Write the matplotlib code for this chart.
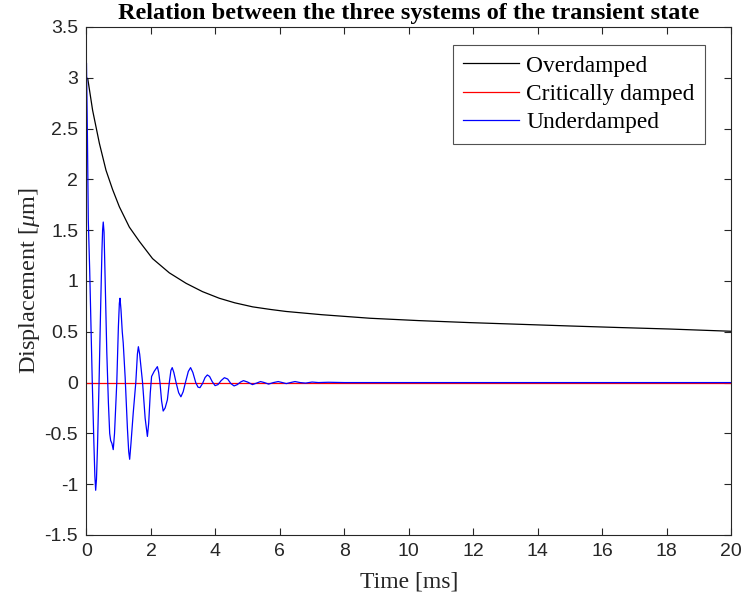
import numpy as np
import matplotlib
matplotlib.use('Agg')
import matplotlib.pyplot as plt

# overdamped response
t_over = [0, 0.04, 0.19, 0.40, 0.605, 0.81, 1.02, 1.33, 1.64, 2.05, 2.57, 3.09, 3.6, 4.12,
          4.6, 5.16, 5.7, 6.19, 7.3, 8.8, 10.3, 11.9, 13.5, 15.0, 16.5, 18.1, 20]
y_over = [3.0, 2.99, 2.68, 2.355, 2.09, 1.90, 1.73, 1.53, 1.39, 1.22, 1.08, 0.977, 0.895, 0.83,
          0.785, 0.745, 0.72, 0.70, 0.668, 0.633, 0.61, 0.59, 0.573, 0.557, 0.542, 0.527, 0.505]

# critically damped response
t_crit = [0, 20]
y_crit = [0, 0]

# underdamped response
t_under = [0, 0.03, 0.056, 0.1, 0.14, 0.18, 0.23, 0.26, 0.285, 0.31, 0.34, 0.39, 0.44, 0.48, 0.50,
           0.52, 0.545, 0.58, 0.63, 0.68, 0.72, 0.75, 0.79, 0.83, 0.87, 0.94, 0.99, 1.02, 1.04,
           1.07, 1.11, 1.14, 1.20, 1.27, 1.31, 1.34, 1.38, 1.45, 1.53, 1.58, 1.61, 1.65, 1.74,
           1.82, 1.89, 1.93, 1.98, 2.02, 2.10, 2.20, 2.24, 2.28, 2.33, 2.38, 2.44, 2.51, 2.57,
           2.62, 2.66, 2.71, 2.78, 2.86, 2.93, 3.0, 3.07, 3.16, 3.23, 3.30, 3.39, 3.46, 3.52,
           3.60, 3.68, 3.75, 3.82, 3.90, 3.99, 4.08, 4.18, 4.28, 4.38, 4.48, 4.58, 4.68, 4.78,
           4.87, 5.0, 5.15, 5.28, 5.40, 5.52, 5.65, 5.80, 5.95, 6.08, 6.2, 6.33, 6.47, 6.63,
           6.8, 7.0, 7.2, 7.5, 8.0, 20]
y_under = [3.14, 2.4, 1.60, 1.1, 0.55, 0.0, -0.6, -0.92, -1.06, -0.95, -0.65, 0.0, 0.75, 1.3, 1.5,
           1.58, 1.48, 1.0, 0.3, -0.2, -0.5, -0.57, -0.6, -0.66, -0.5, 0.0, 0.55, 0.78, 0.83,
           0.72, 0.5, 0.39, 0.05, -0.45, -0.68, -0.755, -0.6, -0.30, 0.0, 0.28, 0.353, 0.28, 0.0,
           -0.35, -0.53, -0.4, -0.1, 0.06, 0.11, 0.157, 0.1, 0.0, -0.18, -0.28, -0.25, -0.17, 0.0,
           0.12, 0.147, 0.1, 0.0, -0.1, -0.14, -0.09, 0.0, 0.11, 0.147, 0.1, 0.0, -0.045, -0.05,
           -0.01, 0.05, 0.075, 0.06, 0.01, -0.03, -0.02, 0.02, 0.048, 0.035, -0.01, -0.033, -0.02, 0.005,
           0.019, 0.005, -0.02, -0.005, 0.01, 0.0, -0.015, 0.0, 0.01, 0.0, -0.01, 0.0, 0.01, 0.0,
           -0.005, 0.005, 0.0, 0.003, 0.0, 0.0]

xticks = np.arange(0, 21, 2)
yticks = np.arange(-1.5, 3.51, 0.5)

plt.rcParams['mathtext.fontset'] = 'custom'
plt.rcParams['mathtext.it'] = 'Liberation Serif:italic'
plt.rcParams['mathtext.rm'] = 'Liberation Serif'

fig = plt.figure(figsize=(7.43, 6.03), dpi=100)
ax = fig.add_axes([0.1164, 0.1128, 0.8675, 0.8425])

ax.plot(t_over, y_over, color='black', lw=0.9, label='Overdamped')
ax.plot(t_crit, y_crit, color='red', lw=0.9, label='Critically damped')
ax.plot(t_under, y_under, color='blue', lw=0.9, label='Underdamped')

ax.set_xlim(0, 20)
ax.set_ylim(-1.5, 3.5)
ax.set_xticks(xticks)
ax.set_yticks(yticks)
ax.set_xticklabels([str(v) for v in xticks])
ax.set_yticklabels(['%g' % v for v in yticks])
ax.tick_params(direction='in', top=True, right=True, length=5, width=0.8,
               labelsize=14, colors='#262626', pad=6)
for lab in ax.get_xticklabels() + ax.get_yticklabels():
    lab.set_family('Liberation Sans')
for s in ax.spines.values():
    s.set_color('#262626')
    s.set_linewidth(0.8)

ax.set_xlabel('Time [ms]', family='Liberation Serif', fontsize=17, color='#262626', labelpad=8)
ax.set_ylabel(r'Displacement [$\mu$m]', family='Liberation Serif', fontsize=17.5, color='#262626', labelpad=2)
ax.set_title('Relation between the three systems of the transient state',
             family='Liberation Serif', fontweight='bold', fontsize=17.5, pad=6)

leg = ax.legend(loc='upper right', bbox_to_anchor=(0.96, 0.965), fancybox=False,
                prop={'family': 'Liberation Serif', 'size': 16.8}, handlelength=2.4,
                borderpad=0.45, labelspacing=0.3, handletextpad=0.3, borderaxespad=0)
leg.get_frame().set_edgecolor('#262626')
leg.get_frame().set_linewidth(0.8)

plt.savefig('out.png', dpi=100)
